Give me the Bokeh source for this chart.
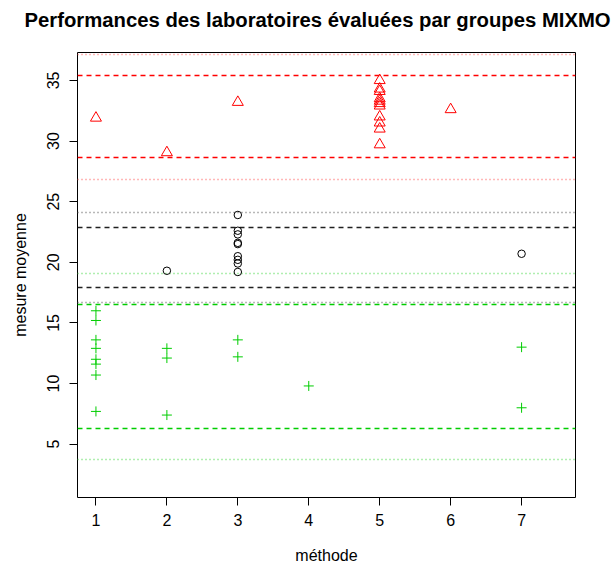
from bokeh.plotting import figure
from bokeh.models import Range1d, FixedTicker, Title
from bokeh.embed import file_html
from bokeh.resources import INLINE

title_text = "Performances des laboratoires évaluées par groupes MIXMO"
x_ticks = [1, 2, 3, 4, 5, 6, 7]
y_ticks = [5, 10, 15, 20, 25, 30, 35]

# group "red" (triangles)
red_x = [1, 2, 3, 5, 5, 5, 5, 5, 5, 5, 5, 5, 5, 5, 6]
red_y = [31.9, 29.05, 33.2, 35.0, 34.3, 34.1, 33.5, 33.3, 33.1, 32.9, 32.0, 31.5, 31.0, 29.7, 32.6]
# group "black" (circles)
black_x = [2, 3, 3, 3, 3, 3, 3, 3, 3, 3, 7]
black_y = [19.3, 23.9, 22.6, 22.3, 21.6, 21.5, 20.5, 20.2, 19.9, 19.2, 20.7]
# group "green" (crosses)
green_x = [1, 1, 1, 1, 1, 1, 1, 1, 2, 2, 2, 3, 3, 4, 7, 7]
green_y = [16.0, 15.2, 13.6, 12.9, 12.0, 11.6, 10.7, 7.7, 12.9, 12.1, 7.4, 13.6, 12.2, 9.8, 13.0, 8.0]

# horizontal reference lines per group
red_dashed = [35.4, 28.6]
red_dotted = [37.1, 26.8]
black_dashed = [22.9, 17.9]
black_dotted = [24.1, 16.7]
green_dashed = [16.5, 6.3]
green_dotted = [19.1, 3.7]

RED = "#FF0000"
BLACK = "#000000"
GREEN = "#00CD00"
FONT = "Liberation Sans"

p = figure(width=616, height=567, output_backend="svg", toolbar_location=None, title=None,
           x_range=Range1d(0.74, 7.76), y_range=Range1d(0.6, 37.3),
           min_border_left=77, min_border_right=41, min_border_top=52, min_border_bottom=70,
           x_axis_label="méthode", y_axis_label="mesure moyenne")

# spacer between frame and title (closest to the frame), then the real title
spacer = Title(text=" ", text_font=FONT, text_font_size="2px", standoff=16)
p.add_layout(spacer, "above")
main_title = Title(text=title_text, text_font=FONT, text_font_size="20.3px",
                   text_font_style="bold", align="left", vertical_align="top",
                   offset=-53, standoff=0, text_color="black")
p.add_layout(main_title, "above")

p.grid.visible = False
p.outline_line_color = "black"
p.outline_line_width = 1
p.background_fill_color = "white"
p.border_fill_color = "white"

for ax in (p.xaxis[0], p.yaxis[0]):
    ax.axis_line_color = None
    ax.minor_tick_line_color = None
    ax.major_tick_in = 0
    ax.major_tick_out = 8
    ax.major_tick_line_color = "black"
    ax.major_label_text_font = FONT
    ax.major_label_text_font_size = "16px"
    ax.major_label_text_color = "black"
    ax.axis_label_text_font = FONT
    ax.axis_label_text_font_size = "16px"
    ax.axis_label_text_font_style = "normal"
    ax.axis_label_text_color = "black"

p.xaxis.ticker = FixedTicker(ticks=x_ticks)
p.yaxis.ticker = FixedTicker(ticks=y_ticks)
p.yaxis.major_label_orientation = "vertical"
p.xaxis.major_label_standoff = 8
p.yaxis.major_label_standoff = 10
p.xaxis.axis_label_standoff = 18
p.yaxis.axis_label_standoff = 16

def add_lines(vals, color, dash, width):
    p.hspan(y=vals, line_color=color, line_dash=dash, line_width=width)

add_lines(red_dotted, "#FF7070", "1 3", 1.3)
add_lines(red_dashed, RED, "5 4", 1.4)
add_lines(black_dotted, "#707070", "1 3", 1.3)
add_lines(black_dashed, "#202020", "5 4", 1.3)
add_lines(green_dotted, "#60DD60", "1 3", 1.3)
add_lines(green_dashed, GREEN, "5 4", 1.4)

p.scatter(red_x, red_y, marker="triangle", size=11, fill_color=None, line_color=RED, line_width=1)
p.scatter(black_x, black_y, marker="circle", size=7.5, fill_color=None, line_color=BLACK, line_width=1)
p.scatter(green_x, green_y, marker="cross", size=10, line_color=GREEN, line_width=1)

open("out.html", "w").write(file_html(p, INLINE))
